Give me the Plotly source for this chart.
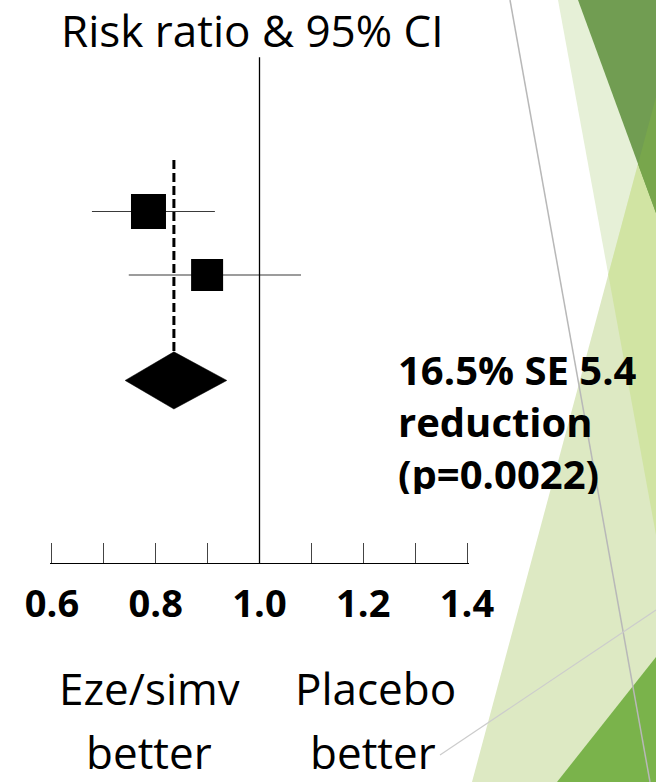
import plotly.graph_objects as go

# ---- data -------------------------------------------------------------
trial_rr = [0.786, 0.899]          # point estimates (risk ratio)
trial_lo = [0.677, 0.748]          # lower 95% CI
trial_hi = [0.914, 1.080]          # upper 95% CI
trial_weight_size = [35, 32]       # square size ~ study weight

pooled_reduction_pct = 16.5
pooled_se_pct = 5.4
pooled_p = "0.0022"
pooled_rr = 1 - pooled_reduction_pct / 100
pooled_lo = 0.741
pooled_hi = 0.937

tick_vals = [0.6, 0.7, 0.8, 0.9, 1.0, 1.1, 1.2, 1.3, 1.4]
tick_text = ["0.6", "", "0.8", "", "1.0", "", "1.2", "", "1.4"]

# ---- layout helpers -----------------------------------------------------
W, H = 656, 782
trial_rows = [1, 2]
pooled_row = 3.66
diamond_half = 0.45
ref_line_top = -1.43
dash_top = 0.19
y_range = [6.535, -2.331]
x_pad = 0.004                       # keeps the end ticks from being clipped
px_per_unit = 518.75
x_left_px = 52


def px(x):
    return x / W


def py(y):
    return 1 - y / H


fig = go.Figure()

# individual trials: squares with CI whiskers
fig.add_trace(go.Scatter(
    x=trial_rr, y=trial_rows, mode="markers",
    marker=dict(symbol="square", size=trial_weight_size, color="black",
                opacity=1, line=dict(width=0)),
    error_x=dict(type="data", symmetric=False,
                 array=[h - r for h, r in zip(trial_hi, trial_rr)],
                 arrayminus=[r - l for r, l in zip(trial_rr, trial_lo)],
                 thickness=1.2, width=0, color="#3a3a3a"),
    hoverinfo="skip", showlegend=False,
))

# pooled estimate diamond
fig.add_trace(go.Scatter(
    x=[pooled_lo, pooled_rr, pooled_hi, pooled_rr, pooled_lo],
    y=[pooled_row, pooled_row - diamond_half, pooled_row,
       pooled_row + diamond_half, pooled_row],
    mode="lines", fill="toself", fillcolor="black",
    line=dict(color="black", width=0.5),
    hoverinfo="skip", showlegend=False,
))

shapes = []

# decorative background wedges (paper coords)
def poly(points, color):
    path = "M " + " L ".join(f"{px(x):.5f},{py(y):.5f}" for x, y in points) + " Z"
    return dict(type="path", xref="paper", yref="paper", path=path,
                fillcolor=color, line=dict(width=0), layer="below")


shapes += [
    poly([(558, 0), (656, 0), (656, 535)], "#e6f0d7"),
    poly([(656, 97), (472, 782), (656, 782)], "#dde9c3"),
    poly([(656, 97), (608.3, 274.5), (656, 535)], "#d1e4a3"),
    poly([(578, 0), (656, 0), (656, 213)], "#719d52"),
    poly([(656, 97), (638, 164), (656, 213)], "#78a64c"),
    poly([(557, 782), (656, 657), (656, 782)], "#7ab34b"),
]
shapes += [
    dict(type="line", xref="paper", yref="paper",
         x0=px(510), y0=py(0), x1=px(650), y1=py(782),
         line=dict(color="#b8b8b8", width=1.5), layer="below"),
    dict(type="line", xref="paper", yref="paper",
         x0=px(440), y0=py(755), x1=px(656), y1=py(610),
         line=dict(color="#cccccc", width=1.2), layer="below"),
]

# line of no effect and dashed pooled line
shapes += [
    dict(type="line", xref="x", yref="y", x0=1.0, x1=1.0,
         y0=ref_line_top, y1=y_range[0], line=dict(color="black", width=1.3)),
    dict(type="line", xref="x", yref="y", x0=pooled_rr, x1=pooled_rr,
         y0=dash_top, y1=pooled_row - diamond_half,
         line=dict(color="black", width=3, dash="9px,4px")),
]

reg = dict(family="Open Sans", size=44, color="black")
bold = dict(family="Open Sans", size=40, color="black", weight="bold")

annotations = [
    dict(text="Risk ratio & 95% CI", x=px(252), y=py(30), font=reg, height=46),
    dict(text=f"{pooled_reduction_pct}% SE {pooled_se_pct}", x=px(396),
         y=py(369), xanchor="left", font=bold, height=42),
    dict(text="reduction", x=px(396), y=py(421), xanchor="left", font=bold,
         height=42),
    dict(text=f"(p={pooled_p})", x=px(396), y=py(473), xanchor="left",
         font=bold, height=42),
    dict(text="Eze/simv", x=px(149), y=py(688), font=reg, height=46),
    dict(text="better", x=px(149), y=py(752), font=reg, height=46),
    dict(text="Placebo", x=px(376), y=py(688), font=reg, height=46),
    dict(text="better", x=px(373), y=py(752), font=reg, height=46),
]
for a in annotations:
    a.update(xref="paper", yref="paper", showarrow=False,
             yanchor="middle", xanchor=a.get("xanchor", "center"))

x_range = [tick_vals[0] - x_pad, tick_vals[-1] + x_pad]
dom_left = (x_left_px - x_pad * px_per_unit) / W
dom_right = (x_left_px + (x_range[1] - tick_vals[0]) * px_per_unit) / W

fig.update_layout(
    template="none",
    width=W, height=H, autosize=False,
    margin=dict(l=0, r=0, t=0, b=0, autoexpand=False),
    paper_bgcolor="white", plot_bgcolor="rgba(0,0,0,0)",
    shapes=shapes, annotations=annotations,
    xaxis=dict(domain=[dom_left, dom_right], range=x_range,
               tickvals=tick_vals, ticktext=tick_text,
               ticks="inside", ticklen=20, tickwidth=1.2, tickcolor="#444444",
               showline=True, linecolor="black", linewidth=1.3,
               showgrid=False, zeroline=False, automargin=False,
               ticklabelstandoff=7,
               tickfont=dict(family="Open Sans", size=38, color="black",
                             weight="bold"),
               fixedrange=True),
    yaxis=dict(domain=[1 - 563 / H, 1], range=y_range, visible=False,
               automargin=False, fixedrange=True),
)

fig.write_html("out.html")
